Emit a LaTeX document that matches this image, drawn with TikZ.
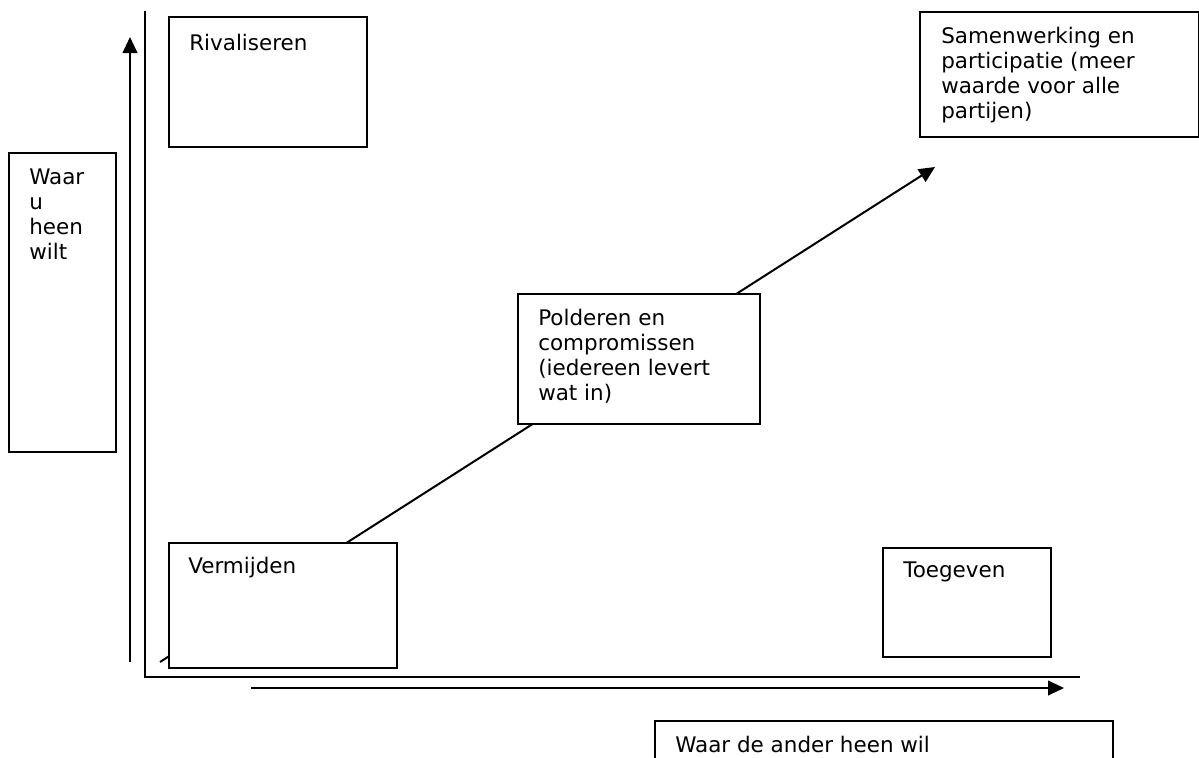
\documentclass[tikz,border=0pt]{standalone}
\usepackage{fontspec}
\setmainfont{DejaVu Sans}
\usetikzlibrary{arrows.meta}
\begin{document}
\begin{tikzpicture}[x=0.75pt,y=-0.75pt,
  box/.style 2 args={draw=black, line width=1.5pt, fill=white, inner sep=0pt, anchor=north west,
    minimum width=#1*0.75pt, minimum height=#2*0.75pt},
  txt/.style={anchor=north west, inner sep=0pt, align=left, text=black,
    font=\fontsize{16.1}{18.75}\selectfont},
  axisline/.style={draw=black, line width=1.5pt},
  arr/.style={draw=black, line width=1.5pt, -{Triangle[length=12pt,width=11pt]}}]
\useasboundingbox (0,0) rectangle (1199,757);

% coordinates
\coordinate (axtop) at (145,11);
\coordinate (axend) at (1080,677);
\coordinate (upS) at (130,662);
\coordinate (upE) at (130,37);
\coordinate (rtS) at (251,688);
\coordinate (rtE) at (1064,688);
\coordinate (diS) at (160,662);
\coordinate (diE) at (935,167);

% axes and arrows
\draw[axisline] (axtop) |- (axend);
\draw[arr] (upS) -- (upE);
\draw[arr] (rtS) -- (rtE);
\draw[arr] (diS) -- (diE);

% boxes
\node[box={198}{130}] (riv) at (168,16) {};
\node[box={107}{299}] (waar) at (8,152) {};
\node[box={279}{125}] (sam) at (919,11) {};
\node[box={242}{130}] (pol) at (517,293) {};
\node[box={228}{125}] (ver) at (168,542) {};
\node[box={168}{109}] (toe) at (882,547) {};
\node[box={458}{80}] (and) at (654,720) {};

% texts
\node[txt] (tRiv) at (189,34) {Rivaliseren};
\node[txt] (tWaar) at (29,169) {Waar\\u\\heen\\wilt};
\node[txt] (tSam) at (941,27) {Samenwerking en\\participatie (meer\\waarde voor alle\\partijen)};
\node[txt] (tPol) at (538,309) {Polderen en\\compromissen\\(iedereen levert\\wat in)};
\node[txt] (tVer) at (188,557) {Vermijden};
\node[txt] (tToe) at (903,562) {Toegeven};
\begin{scope}
\clip (656,722) rectangle (1110,752);
\node[txt] (tAnd) at (675,736) {Waar de ander heen wil};
\end{scope}
\end{tikzpicture}
\end{document}
